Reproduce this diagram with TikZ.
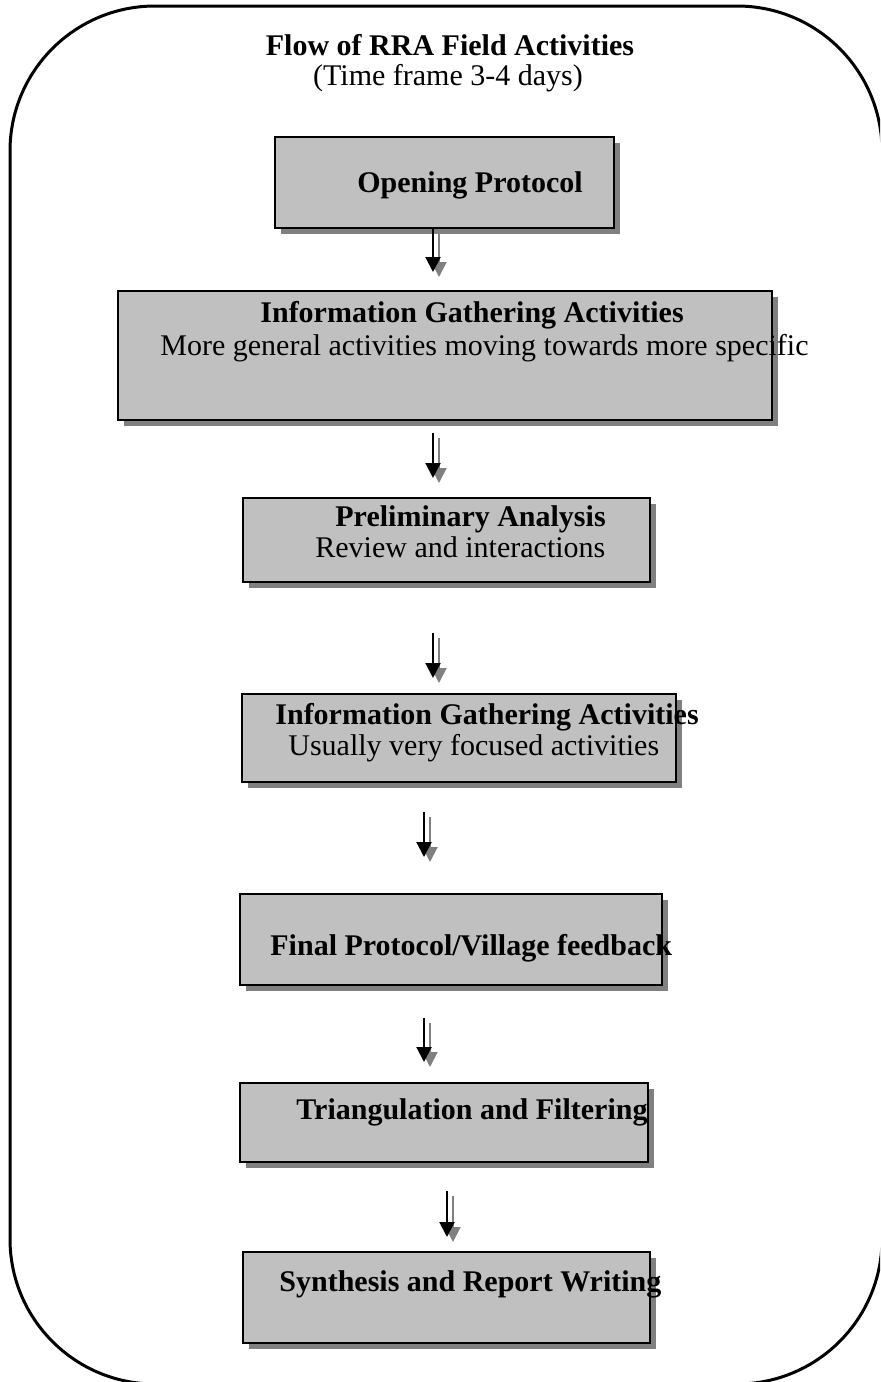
\documentclass[tikz,border=0pt]{standalone}
\usepackage{fontspec}
\setmainfont{Liberation Serif}
\usetikzlibrary{shadows,arrows.meta}
\definecolor{boxgray}{RGB}{192,192,192}
\definecolor{shadowgray}{RGB}{128,128,128}
\begin{document}
\begin{tikzpicture}[x=0.5pt,y=-0.5pt,
  frame/.style={draw=black,line width=1.5pt,rounded corners=72.5pt},
  stepbox/.style={draw=black,line width=0.8pt,fill=boxgray,inner sep=0pt,outer sep=0pt,anchor=north west,
    drop shadow={shadow xshift=3pt,shadow yshift=-3pt,fill=shadowgray,opacity=1}},
  txt/.style={anchor=base west,inner sep=0pt,font=\fontsize{15pt}{18pt}\selectfont},
  btxt/.style={txt,font=\fontsize{15pt}{18pt}\selectfont\bfseries},
  arr/.style={draw=black,line width=1pt,-{Triangle[width=7.5pt,length=7.5pt]}},
  sarr/.style={draw=shadowgray,line width=1pt,-{Triangle[width=7.5pt,length=7.5pt]},transform canvas={shift={(3pt,-2.5pt)}}}
]
\useasboundingbox (0,0) rectangle (880,1382);
\begin{scope}
\clip (0,0) rectangle (880,1382);
\draw[frame] (10,6) rectangle (882,1384);
\end{scope}

% title
\node[btxt,anchor=base] (t1) at (450,55) {Flow of RRA Field Activities};
\node[txt,anchor=base] (t2) at (448,85) {(Time frame 3-4 days)};

% boxes
\node[stepbox,minimum width=169.5pt,minimum height=45.5pt] (b1) at (275,137) {};
\node[stepbox,minimum width=327pt,minimum height=64.5pt] (b2) at (118,291) {};
\node[stepbox,minimum width=203.5pt,minimum height=42pt] (b3) at (243,498) {};
\node[stepbox,minimum width=217pt,minimum height=44pt] (b4) at (242,694) {};
\node[stepbox,minimum width=211pt,minimum height=45.5pt] (b5) at (240,894) {};
\node[stepbox,minimum width=204pt,minimum height=39.5pt] (b6) at (240,1083) {};
\node[stepbox,minimum width=203.5pt,minimum height=45.5pt] (b7) at (243,1252) {};

% texts
\node[btxt] (l1) at (357,192) {Opening Protocol};
\node[btxt] (l2a) at (260,322) {Information Gathering Activities};
\node[txt] (l2b) at (160,355) {More general activities moving towards more specific};
\node[btxt] (l3a) at (335,526) {Preliminary Analysis};
\node[txt] (l3b) at (315,557) {Review and interactions};
\node[btxt] (l4a) at (275,724) {Information Gathering Activities};
\node[txt] (l4b) at (288,755) {Usually very focused activities};
\node[btxt] (l5) at (270,955) {Final Protocol/Village feedback};
\node[btxt] (l6) at (296,1119) {Triangulation and Filtering};
\node[btxt] (l7) at (279,1291) {Synthesis and Report Writing};

% arrow x positions
\coordinate (xa) at (433,0);
\coordinate (xb) at (424,0);
\coordinate (xc) at (447,0);

% arrows (shadow first)
\draw[sarr,shorten <=0pt,shorten >=9.5pt] (b1.south -| xa) -- (b2.north -| xa);
\draw[arr,shorten <=0pt,shorten >=9.5pt] (b1.south -| xa) -- (b2.north -| xa);
\draw[sarr,shorten <=6.5pt,shorten >=10pt] (b2.south -| xa) -- (b3.north -| xa);
\draw[arr,shorten <=6.5pt,shorten >=10pt] (b2.south -| xa) -- (b3.north -| xa);
\draw[sarr,shorten <=25.5pt,shorten >=8pt] (b3.south -| xa) -- (b4.north -| xa);
\draw[arr,shorten <=25.5pt,shorten >=8pt] (b3.south -| xa) -- (b4.north -| xa);
\draw[sarr,shorten <=15pt,shorten >=18.5pt] (b4.south -| xb) -- (b5.north -| xb);
\draw[arr,shorten <=15pt,shorten >=18.5pt] (b4.south -| xb) -- (b5.north -| xb);
\draw[sarr,shorten <=16.5pt,shorten >=10.5pt] (b5.south -| xb) -- (b6.north -| xb);
\draw[arr,shorten <=16.5pt,shorten >=10.5pt] (b5.south -| xb) -- (b6.north -| xb);
\draw[sarr,shorten <=14.5pt,shorten >=7.5pt] (b6.south -| xc) -- (b7.north -| xc);
\draw[arr,shorten <=14.5pt,shorten >=7.5pt] (b6.south -| xc) -- (b7.north -| xc);
\end{tikzpicture}
\end{document}
